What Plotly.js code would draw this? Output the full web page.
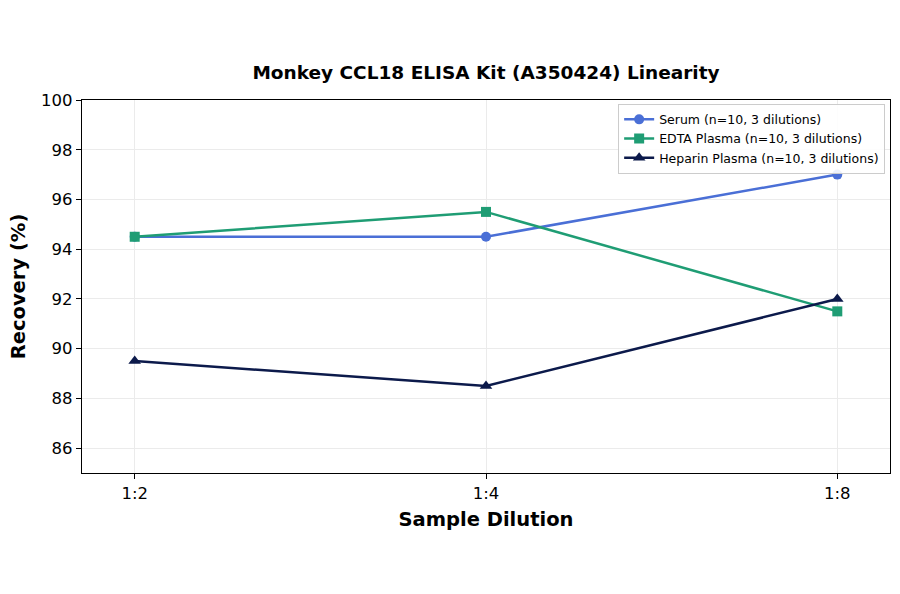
<!DOCTYPE html>
<html><head><meta charset="utf-8">
<script src="https://cdn.plot.ly/plotly-3.0.1.min.js"></script>
<style>body{margin:0;background:#fff}#c{width:900px;height:594px}</style>
</head><body><div id="c"></div>
<script>
const dilutions = ["1:2", "1:4", "1:8"];
const serum = [94.5, 94.5, 97.0];
const edta = [94.5, 95.5, 91.5];
const heparin = [89.5, 88.5, 92.0];
const names = ["Serum (n=10, 3 dilutions)", "EDTA Plasma (n=10, 3 dilutions)", "Heparin Plasma (n=10, 3 dilutions)"];
const xs = [0, 1, 2];

function tr(y, name, color, symbol, size) {
  return {x: xs, y: y, name: name, type: "scatter", mode: "lines+markers",
    line: {color: color, width: 2.5}, marker: {color: color, symbol: symbol, size: size}};
}
const data = [
  tr(serum, names[0], "#4a6fd6", "circle", 10),
  tr(edta, names[1], "#1f9d74", "square", 10),
  tr(heparin, names[2], "#0c1a4b", "triangle-up", 11)
];
const layout = {
  width: 900, height: 594,
  font: {family: "DejaVu Sans", color: "#000"},
  paper_bgcolor: "#fff", plot_bgcolor: "#fff",
  margin: {l: 82, r: 10, t: 100, b: 121},
  title: {text: "<b>Monkey CCL18 ELISA Kit (A350424) Linearity</b>", font: {size: 18.5}, x: 0.54, xanchor: "center", y: 0.878, yanchor: "middle"},
  xaxis: {
    range: [-0.15, 2.15], tickvals: xs, ticktext: dilutions,
    showgrid: true, gridcolor: "#ebebeb", gridwidth: 1,
    showline: true, linecolor: "#000", linewidth: 1.3, mirror: true,
    ticks: "outside", ticklen: 5, tickcolor: "#000",
    tickfont: {size: 16.5}, zeroline: false,
    title: {text: "<b>Sample Dilution</b>", font: {size: 19.5}, standoff: 10}
  },
  yaxis: {
    range: [85, 100], tickvals: [86, 88, 90, 92, 94, 96, 98, 100],
    showgrid: true, gridcolor: "#ebebeb", gridwidth: 1,
    showline: true, linecolor: "#000", linewidth: 1.3, mirror: true,
    ticks: "outside", ticklen: 5, tickcolor: "#000",
    tickfont: {size: 16.5}, zeroline: false,
    title: {text: "<b>Recovery (%)</b>", font: {size: 19.5}, standoff: 10}
  },
  legend: {x: 0.994, xanchor: "right", y: 0.99, yanchor: "top",
    bgcolor: "rgba(255,255,255,0.9)", bordercolor: "#cccccc", borderwidth: 1,
    font: {size: 12.5}, tracegroupgap: 0, itemwidth: 30},
  showlegend: true
};
Plotly.newPlot("c", data, layout, {displayModeBar: false, staticPlot: true});
</script></body></html>
